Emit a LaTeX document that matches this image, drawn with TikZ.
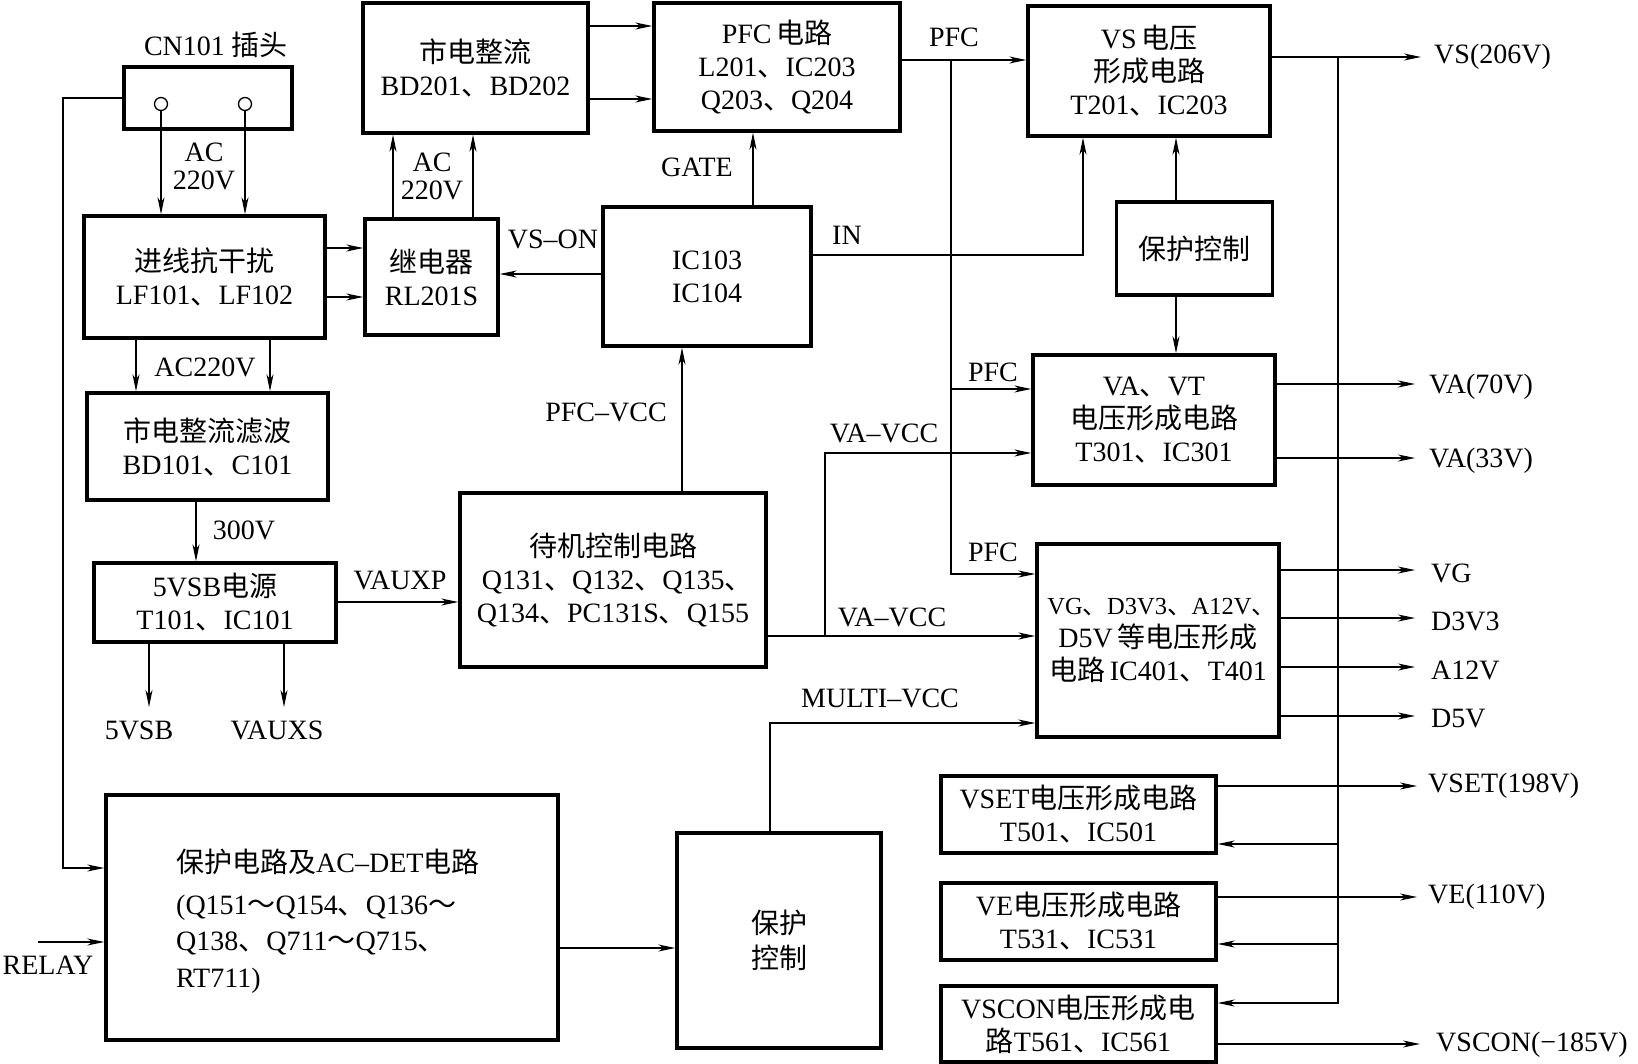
\documentclass[tikz,border=0pt]{standalone}
\usepackage{fontspec}
\setmainfont{Liberation Serif}
\newfontfamily\cjkfont{Noto Sans CJK SC}
\usetikzlibrary{arrows.meta}
\newcommand\zh[1]{{\cjkfont #1}}
\newcommand\dun{{\cjkfont 、}}
\newcommand\tld{{\cjkfont ～}}
\begin{document}
\begin{tikzpicture}[x=1pt,y=-1pt,
  box/.style={draw, line width=3.4pt, inner sep=0pt, align=center, font=\fontsize{28}{33}\selectfont},
  arr/.style={line width=1.3pt, -{Stealth[length=17pt,width=7pt,inset=5pt]}},
  lbl/.style={inner sep=0pt, align=center, font=\fontsize{28}{28}\selectfont},
  circ/.style={draw, circle, line width=1.3pt, minimum size=13pt, inner sep=0pt}]
\useasboundingbox (0,0) rectangle (1638,1064);
\fill[white] (0,0) rectangle (1638,1064);

% ---------- boxes ----------
\node[box, minimum width=168pt, minimum height=62pt] (cn) at (208,98) {};
\node[circ] (p1) at (161,104) {};
\node[circ] (p2) at (245,104) {};
\node[lbl] (cnl) at (216,45) {CN101 \zh{插头}};

\node[box, minimum width=241pt, minimum height=122pt] (jx) at (204.5,277) {\zh{进线抗干扰}\\LF101\dun LF102};
\node[box, minimum width=225pt, minimum height=130pt] (zl) at (475.5,68) {\zh{市电整流}\\BD201\dun BD202};
\node[box, minimum width=133pt, minimum height=116pt] (jdq) at (431.5,277) {\zh{继电器}\\RL201S};
\node[box, minimum width=246pt, minimum height=128pt] (pfc) at (777,67) {PFC\,\zh{电路}\\L201\dun IC203\\Q203\dun Q204};
\node[box, minimum width=208pt, minimum height=139pt] (ic) at (707,276.5) {IC103\\IC104};
\node[box, minimum width=242pt, minimum height=130pt] (vs) at (1149,71) {VS\,\zh{电压}\\\zh{形成电路}\\T201\dun IC203};
\node[box, minimum width=156pt, minimum height=93pt] (bk1) at (1194.5,248.5) {\zh{保护控制}};
\node[box, minimum width=242pt, minimum height=130pt] (va) at (1154,420) {VA\dun VT\\\zh{电压形成电路}\\T301\dun IC301};
\node[box, minimum width=241pt, minimum height=107pt] (sx) at (207.5,446.5) {\zh{市电整流滤波}\\BD101\dun C101};
\node[box, minimum width=306pt, minimum height=174pt] (dj) at (613,580) {\zh{待机控制电路}\\\hspace*{0.3em}Q131\dun Q132\dun Q135\dun\\Q134\dun PC131S\dun Q155};
\node[box, minimum width=242pt, minimum height=79pt] (vsb) at (215,602.5) {5VSB\zh{电源}\\T101\dun IC101};
\node[box, minimum width=242pt, minimum height=193pt] (vg) at (1158,640.5) {{\fontsize{24.5}{33}\selectfont\hspace*{0.3em}VG\dun D3V3\dun A12V\dun}\\D5V\,\zh{等电压形成}\\\zh{电路}\,IC401\dun T401};
\node[box, minimum width=452pt, minimum height=245pt] (bh) at (332,917.5) {};
\node[inner sep=0pt, align=left, anchor=west, font=\fontsize{28}{36.5}\selectfont] (bht) at (176,921)
  {\zh{保护电路及}AC–DET\zh{电路}\\[5pt](Q151\tld Q154\dun Q136\tld\\Q138\dun Q711\tld Q715\dun\\RT711)};
\node[box, minimum width=204pt, minimum height=215pt, font=\fontsize{28}{35}\selectfont] (bk2) at (779,940.5) {\zh{保护}\\\zh{控制}};
\node[box, minimum width=275pt, minimum height=77pt] (vset) at (1078.5,814.5) {VSET\zh{电压形成电路}\\T501\dun IC501};
\node[box, minimum width=275pt, minimum height=77pt] (ve) at (1078.5,921.5) {VE\zh{电压形成电路}\\T531\dun IC531};
\node[box, minimum width=275pt, minimum height=76pt] (vscon) at (1078.5,1024) {VSCON\zh{电压形成电}\\\zh{路}T561\dun IC561};

% ---------- free ends ----------
\coordinate (pbus) at (951,60);
\coordinate (rbus) at (1338,57);
\coordinate (vaccb) at (825,636);
\coordinate (fbx) at (63,868);
\coordinate (o5vsb) at (149,707);
\coordinate (ovauxs) at (284,707);
\coordinate (irelay) at (38,942);

% ---------- left part ----------
\draw[arr] (p1.south) -- (p1 |- jx.north);
\draw[arr] (p2.south) -- (p2 |- jx.north);
\node[lbl] at (204,166.5) {AC\\220V};
\draw[arr] (cn.west) -| (fbx) -- (bh.west |- fbx);
\draw[arr] (jx.east |- 0,248) -- (jdq.west |- 0,248);
\draw[arr] (jx.east |- 0,297) -- (jdq.west |- 0,297);
\draw[arr] (jdq.north -| 393,0) -- (zl.south -| 393,0);
\draw[arr] (jdq.north -| 473,0) -- (zl.south -| 473,0);
\node[lbl] at (432,176.5) {AC\\220V};
\draw[arr] (zl.east |- 0,26) -- (pfc.west |- 0,26);
\draw[arr] (zl.east |- 0,99) -- (pfc.west |- 0,99);
\draw[arr] (ic.west |- 0,274) -- (jdq.east |- 0,274);
\node[lbl] at (553,239) {VS–ON};
\draw[arr] (ic.north -| 753,0) -- (pfc.south -| 753,0);
\node[lbl] at (697,167) {GATE};
\draw[arr] (ic.east |- 0,255) -| (vs.south -| 1083,0);
\node[lbl] at (847,235) {IN};
\draw[arr] (pfc.east |- pbus) -- (vs.west |- pbus);
\node[lbl] at (954,37) {PFC};
\draw[arr] (pbus) |- (vg.west |- 0,574);
\draw[arr] (pbus |- 0,389) -- (va.west |- 0,389);
\node[lbl] at (993,372) {PFC};
\draw[arr] (dj.east |- vaccb) -- (vg.west |- vaccb);
\draw[arr] (vaccb) |- (va.west |- 0,453);
\node[lbl] at (884,433) {VA–VCC};
\node[lbl] at (892,617) {VA–VCC};
\node[lbl] at (993,552) {PFC};
\draw[arr] (dj.north -| 682,0) -- (ic.south -| 682,0);
\node[lbl] at (606,412) {PFC–VCC};
\draw[arr] (bk2.north -| 770,0) |- (vg.west |- 0,723);
\node[lbl] at (880,698) {MULTI–VCC};

\draw[arr] (jx.south -| 136,0) -- (sx.north -| 136,0);
\draw[arr] (jx.south -| 270,0) -- (sx.north -| 270,0);
\node[lbl] at (205,367) {AC220V};
\draw[arr] (sx.south -| 196,0) -- (vsb.north -| 196,0);
\node[lbl] at (244,530) {300V};
\draw[arr] (vsb.east |- 0,602) -- (dj.west |- 0,602);
\node[lbl] at (400,580) {VAUXP};
\draw[arr] (vsb.south -| o5vsb) -- (o5vsb);
\draw[arr] (vsb.south -| ovauxs) -- (ovauxs);
\node[lbl] at (139,730) {5VSB};
\node[lbl] at (277,730) {VAUXS};
\draw[arr] (irelay) -- (bh.west |- irelay);
\node[lbl] at (48,965) {RELAY};
\draw[arr] (bh.east |- 0,948) -- (bk2.west |- 0,948);

% ---------- right part ----------
\draw[arr] (bk1.north -| 1176,0) -- (vs.south -| 1176,0);
\draw[arr] (bk1.south -| 1176,0) -- (va.north -| 1176,0);
\coordinate (ovs) at (1421,57);
\draw[arr] (vs.east |- ovs) -- (ovs);
\node[lbl, anchor=west] at (1434,57) {VS(206V)};
\draw[arr] (rbus) |- (vscon.east |- 0,1003);
\draw[arr] (rbus |- 0,844) -- (vset.east |- 0,844);
\draw[arr] (rbus |- 0,944) -- (ve.east |- 0,944);

\coordinate (ova1) at (1415,384);
\coordinate (ova2) at (1415,458);
\draw[arr] (va.east |- ova1) -- (ova1);
\draw[arr] (va.east |- ova2) -- (ova2);
\node[lbl, anchor=west] at (1429,387) {VA(70V)};
\node[lbl, anchor=west] at (1429,461) {VA(33V)};

\coordinate (ovg1) at (1415,570);
\coordinate (ovg2) at (1415,618);
\coordinate (ovg3) at (1415,667);
\coordinate (ovg4) at (1415,716);
\draw[arr] (vg.east |- ovg1) -- (ovg1);
\draw[arr] (vg.east |- ovg2) -- (ovg2);
\draw[arr] (vg.east |- ovg3) -- (ovg3);
\draw[arr] (vg.east |- ovg4) -- (ovg4);
\node[lbl, anchor=west] at (1431,573) {VG};
\node[lbl, anchor=west] at (1431,621) {D3V3};
\node[lbl, anchor=west] at (1431,670) {A12V};
\node[lbl, anchor=west] at (1431,719) {D5V};

\coordinate (ovset) at (1417,786);
\coordinate (ove) at (1417,897);
\coordinate (ovscon) at (1420,1044);
\draw[arr] (vset.east |- ovset) -- (ovset);
\draw[arr] (ve.east |- ove) -- (ove);
\draw[arr] (vscon.east |- ovscon) -- (ovscon);
\node[lbl, anchor=west] at (1428,786) {VSET(198V)};
\node[lbl, anchor=west] at (1428,897) {VE(110V)};
\node[lbl, anchor=west] at (1436,1045) {VSCON(−185V)};
\end{tikzpicture}
\end{document}
